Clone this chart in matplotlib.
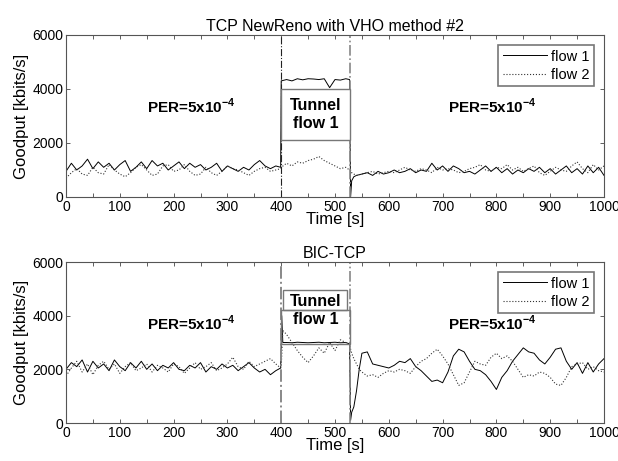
import numpy as np
import matplotlib
matplotlib.use("Agg")
import matplotlib.pyplot as plt
from matplotlib.patches import Rectangle
from matplotlib.ticker import MultipleLocator

plt.rcParams["font.family"] = ["Liberation Sans", "DejaVu Sans"]
plt.rcParams["mathtext.fontset"] = "custom"
plt.rcParams["mathtext.rm"] = "Liberation Sans"
plt.rcParams["mathtext.bf"] = "Liberation Sans:bold"

# ---- data: top panel (TCP NewReno) ----
t_top = np.r_[np.arange(0, 400, 10), 399, 400, np.arange(410, 530, 10),
              527, 529, 531, 535, 540, np.arange(550, 1001, 10)]

reno_flow1 = [950, 1250, 1000, 1150, 1400, 1050, 1300, 1100, 1250, 1000,
              1200, 1350, 950, 1100, 1300, 1050, 1350, 1150, 1250, 1000,
              1150, 1300, 1050, 1250, 1100, 1200, 1000, 1100, 1250, 950,
              1150, 1050, 950, 1100, 1000, 1200, 1350, 1150, 1050, 1150,
              1100, 4300,
              4350, 4300, 4380, 4340, 4380, 4370, 4350, 4380, 4050, 4350, 4330, 4380,
              4350, 0, 600, 750, 800,
              850, 900, 800, 950, 850, 900, 1000, 900, 950, 1050,
              900, 1000, 950, 1250, 1000, 1150, 950, 1150, 1050, 900,
              950, 850, 1000, 1150, 950, 1100, 900, 1050, 850, 1000,
              900, 1050, 950, 1100, 900, 1050, 850, 1000, 1150, 900,
              1050, 850, 1150, 900, 1100, 800]

reno_flow2 = [700, 900, 1050, 850, 800, 1100, 900, 850, 1200, 1000,
              850, 750, 900, 1100, 1200, 1000, 800, 850, 1150, 1200,
              950, 1000, 1200, 950, 800, 850, 1100, 900, 800, 950,
              1150, 1050, 1000, 900, 800, 950, 1050, 1100, 950, 1000,
              1050, 1100,
              1250, 1150, 1300, 1250, 1350, 1400, 1500, 1350, 1250, 1150, 1050, 1100,
              1000, 1000, 900, 850, 800,
              850, 900, 950, 850, 900, 950, 900, 1000, 1100, 1000,
              950, 1050, 1000, 900, 1100, 1000, 1050, 1000, 900, 950,
              1050, 1100, 1200, 1000, 950, 1100, 1050, 1200, 1000, 1100,
              950, 1050, 1150, 900, 800, 950, 1100, 1000, 950, 1150,
              1300, 1050, 900, 1200, 1000, 1150]

# ---- data: bottom panel (BIC-TCP) ----
t_bot = np.r_[np.arange(0, 400, 10), 399, 400, 401, 403, np.arange(410, 530, 10),
              527, 529, 531, 535, 540, 545, np.arange(550, 1001, 10)]

bic_flow1 = [2000, 2250, 2100, 2350, 1900, 2300, 2050, 2200, 1950, 2350,
             2100, 1950, 2250, 2050, 2300, 2000, 2200, 1950, 2150, 2050,
             2250, 2000, 1950, 2150, 2050, 2250, 1900, 2100, 2000, 2200,
             2050, 2150, 1950, 2100, 2250, 2050, 1900, 2000, 1800, 1950,
             2050, 3000, 4000, 3000,
             3000, 2990, 3010, 3000, 2990, 3000, 3010, 2990, 3000, 3010, 2990, 3000,
             2950, 100, 400, 600, 1200, 2000,
             2600, 2650, 2200, 2150, 2100, 2050, 2150, 2300, 2250, 2400,
             2100, 1950, 1750, 1550, 1600, 1500, 1900, 2500, 2750, 2650,
             2300, 2000, 1950, 1800, 1550, 1250, 1700, 1950, 2300, 2550,
             2800, 2650, 2600, 2350, 2200, 2450, 2750, 2800, 2300, 2000,
             2250, 1850, 2250, 1900, 2200, 2400]

bic_flow2 = [1750, 2050, 2300, 1900, 2200, 1800, 2150, 2300, 2000, 2200,
             1850, 2100, 2250, 1950, 2050, 2200, 1900, 2150, 2050, 1900,
             2200, 2100, 1850, 2050, 2250, 2000, 2100, 2250, 1950, 2050,
             2200, 2450, 2100, 2000, 2300, 2100, 2200, 2300, 2400, 2200,
             2050, 2100, 2500, 3450,
             3300, 3000, 2700, 2450, 2250, 2500, 2800, 2600, 3000, 2700, 3100, 3000,
             2900, 2750, 2600, 2400, 2200, 2000,
             1900, 1750, 1800, 1700, 1850, 1950, 1900, 2000, 1950, 1850,
             2100, 2300, 2400, 2600, 2750, 2500, 2200, 1800, 1400, 1500,
             1900, 2300, 2200, 2150, 2450, 2600, 2400, 2500, 2300, 2000,
             1700, 1800, 1750, 1900, 1850, 1700, 1450, 1400, 1700, 2100,
             2200, 2250, 2000, 2100, 1950, 1900]

handover = [400, 528]
per_label = r"PER=5x10$^{\mathbf{-4}}$"

fig = plt.figure(figsize=(6.18, 4.61), dpi=100)
W, H = 618, 461
ax1 = fig.add_axes([66 / W, 1 - 197 / H, 538 / W, 162 / H])
ax2 = fig.add_axes([66 / W, 1 - 423 / H, 538 / W, 161 / H])


def style_axes(ax, title):
    ax.set_xlim(0, 1000)
    ax.set_ylim(0, 6000)
    ax.xaxis.set_major_locator(MultipleLocator(100))
    ax.xaxis.set_minor_locator(MultipleLocator(50))
    ax.yaxis.set_major_locator(MultipleLocator(2000))
    ax.tick_params(which="both", direction="in", top=True, right=True,
                   length=3, width=0.6, color="#444444", labelsize=10, pad=2)
    for s in ax.spines.values():
        s.set_color("#555555")
        s.set_linewidth(0.8)
    ax.set_xlabel("Time [s]", fontsize=12, labelpad=-1)
    ax.set_ylabel("Goodput [kbits/s]", fontsize=12, labelpad=2)
    ax.set_title(title, fontsize=11.5, pad=3)


def add_legend(ax):
    leg = ax.legend(loc="upper right", fontsize=10.5, fancybox=False, framealpha=1,
                    edgecolor="#777777", handlelength=3.0, borderpad=0.3,
                    labelspacing=0.3, handletextpad=0.3, borderaxespad=0.7)
    leg.get_frame().set_linewidth(1.2)


# top panel
ax1.plot(t_top, reno_flow1, "k-", lw=0.7, label="flow 1")
ax1.plot(t_top, reno_flow2, ":", color="#333333", lw=0.8, label="flow 2")
ax1.axvline(handover[0], color="#222222", ls="-.", lw=0.8)
ax1.axvline(handover[1], color="#888888", ls="-.", lw=1.2)
ax1.add_patch(Rectangle((400, 2100), 128, 1900, facecolor="white",
                        edgecolor="#777777", lw=1.0, zorder=3))
ax1.text(464, 3050, "Tunnel\nflow 1", ha="center", va="center",
         fontsize=11.5, fontweight="bold", linespacing=1.3, zorder=4)
ax1.text(233, 3350, per_label, ha="center", va="center", fontsize=11, fontweight="bold")
ax1.text(792, 3350, per_label, ha="center", va="center", fontsize=11, fontweight="bold")
style_axes(ax1, "TCP NewReno with VHO method #2")
add_legend(ax1)

# bottom panel
ax2.plot(t_bot, bic_flow1, "k-", lw=0.7, label="flow 1")
ax2.plot(t_bot, bic_flow2, ":", color="#333333", lw=0.8, label="flow 2")
ax2.axvline(handover[0], color="#888888", ls="-.", lw=1.4)
ax2.axvline(handover[1], color="#888888", ls="-.", lw=1.2)
ax2.add_patch(Rectangle((403, 4220), 120, 730, facecolor="none",
                        edgecolor="#777777", lw=1.0, zorder=3))
ax2.add_patch(Rectangle((400, 2950), 128, 1270, facecolor="none",
                        edgecolor="#777777", lw=1.0, zorder=3))
ax2.text(464, 4520, "Tunnel", ha="center", va="center",
         fontsize=11.5, fontweight="bold", zorder=4)
ax2.text(464, 3850, "flow 1", ha="center", va="center",
         fontsize=11.5, fontweight="bold", zorder=4)
ax2.text(233, 3700, per_label, ha="center", va="center", fontsize=11, fontweight="bold")
ax2.text(792, 3700, per_label, ha="center", va="center", fontsize=11, fontweight="bold")
style_axes(ax2, "BIC-TCP")
add_legend(ax2)

fig.savefig("out.png", dpi=100)
